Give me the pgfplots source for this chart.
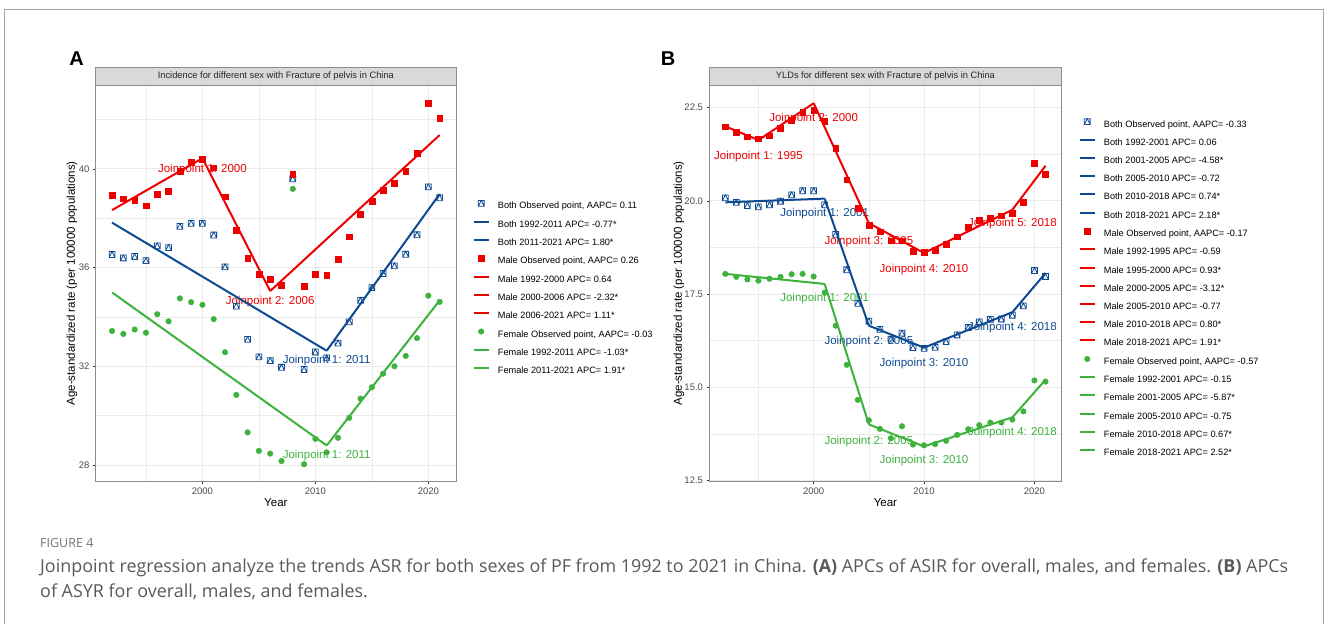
\documentclass[border=0pt]{standalone}
\usepackage{pgfplots}
\pgfplotsset{compat=1.18}
\usepackage{fontspec}
\setmainfont{Liberation Sans}
\newfontfamily\capfont{Open Sans}
\definecolor{cred}{HTML}{EE0000}
\definecolor{cblue}{HTML}{0E4A92}
\definecolor{cgreen}{HTML}{3DB33D}
\definecolor{gridc}{HTML}{EBEBEB}
\definecolor{framec}{HTML}{8C8C8C}
\definecolor{captc}{HTML}{5A5A5A}
\definecolor{stripc}{HTML}{D9D9D9}

\pgfdeclareplotmark{sqtri}{%
 \pgfpathrectangle{\pgfpoint{-\pgfplotmarksize}{-\pgfplotmarksize}}{\pgfpoint{2\pgfplotmarksize}{2\pgfplotmarksize}}%
 \pgfpathmoveto{\pgfpoint{-\pgfplotmarksize}{-\pgfplotmarksize}}%
 \pgfpathlineto{\pgfpoint{0pt}{\pgfplotmarksize}}%
 \pgfpathlineto{\pgfpoint{\pgfplotmarksize}{-\pgfplotmarksize}}%
 \pgfusepathqstroke}

\tikzset{jlab/.style={font=\fontsize{11.5}{13}\selectfont, inner sep=0pt}}

\pgfplotsset{
 jp/.style={
  scale only axis, anchor=south west,
  xmin=1990.55, xmax=2022.45,
  xtick={2000,2010,2020}, minor xtick={1995,2005,2015},
  grid=both,
  major grid style={draw=gridc, line width=0.9pt},
  minor grid style={draw=gridc, line width=0.45pt},
  axis line style={draw=framec, line width=0.8pt},
  tick align=outside, major tick length=2.8pt, minor tick length=0pt,
  xtick pos=bottom, ytick pos=left,
  tick style={draw=black!80, line width=0.5pt},
  ticklabel style={font=\fontsize{9.5}{11}\selectfont, text=black!70},
  /pgf/number format/assume math mode=true,
  x tick label style={/pgf/number format/1000 sep={}},
  xlabel={Year}, ylabel={Age-standardized rate (per 100000 populations)},
  label style={font=\fontsize{11.5}{13}\selectfont},
  xlabel style={at={(axis description cs:0.5,-0.054)}, anchor=center},
  legend cell align=left,
  legend style={draw=none, fill=none, anchor=north west,
    font=\fontsize{9.2}{11}\selectfont, row sep=7.2pt, inner sep=0pt,
    nodes={inner sep=1pt, text height=7pt, text depth=2pt},
    /tikz/every odd column/.append style={column sep=7.2pt}},
 },
 mline/.style={line width=2pt, legend image code/.code={\draw[##1] (0pt,3pt) -- (15pt,3pt);}},
 mpt/.style={only marks, legend image code/.code={\draw[##1] plot coordinates {(7.5pt,3pt)};}},
 pboth/.style={mpt, mark=sqtri, mark size=2.9pt, draw=cblue, mark options={line width=0.8pt}},
 pmale/.style={mpt, mark=square*, mark size=2.9pt, draw=cred, fill=cred},
 pfem/.style={mpt, mark=*, mark size=2.8pt, draw=cgreen, fill=cgreen},
 lboth/.style={mline, draw=cblue},
 lmale/.style={mline, draw=cred},
 lfem/.style={mline, draw=cgreen},
}

\newlength\capw
\def\capone{Joinpoint regression analyze the trends ASR for both sexes of PF from 1992 to 2021 in China. \textbf{(A)} APCs of ASIR for overall, males, and females. \textbf{(B)} APCs}
\def\captwo{of ASYR for overall, males, and females.}

\begin{document}
\settowidth\capw{\capfont\fontsize{10}{12}\selectfont\capone}%
\pgfmathsetmacro\capsz{10*1248/\capw}%
\begin{tikzpicture}
\path[use as bounding box] (0pt,0pt) rectangle (1328pt,624pt);
\fill[white] (0pt,0pt) rectangle (1328pt,624pt);
\draw[framec!80, line width=0.8pt] (4.5pt,0pt) -- (4.5pt,615pt) -- (1323.5pt,615pt) -- (1323.5pt,0pt);

% ---------------- Panel A ----------------
\begin{axis}[jp, at={(95.7pt,142.5pt)}, width=360.3pt, height=396.5pt,
  ymin=27.33, ymax=43.40, ytick={28,32,36,40}, minor ytick={30,34,38,42},
  ylabel style={at={(axis description cs:-0.066,0.5)}, anchor=center},
  legend style={at={(axis description cs:1.0458,0.7092)}}]
\addlegendimage{pboth}\addlegendentry{Both Observed point, AAPC= 0.11}
\addlegendimage{lboth}\addlegendentry{Both 1992-2011 APC= -0.77*}
\addlegendimage{lboth}\addlegendentry{Both 2011-2021 APC= 1.80*}
\addlegendimage{pmale}\addlegendentry{Male Observed point, AAPC= 0.26}
\addlegendimage{lmale}\addlegendentry{Male 1992-2000 APC= 0.64}
\addlegendimage{lmale}\addlegendentry{Male 2000-2006 APC= -2.32*}
\addlegendimage{lmale}\addlegendentry{Male 2006-2021 APC= 1.11*}
\addlegendimage{pfem}\addlegendentry{Female Observed point, AAPC= -0.03}
\addlegendimage{lfem}\addlegendentry{Female 1992-2011 APC= -1.03*}
\addlegendimage{lfem}\addlegendentry{Female 2011-2021 APC= 1.91*}

\node[jlab, text=cred] at (axis cs:2000,39.96) {Joinpoint 1: 2000};
\node[jlab, text=cred] at (axis cs:2006,34.64) {Joinpoint 2: 2006};
\node[jlab, text=cblue] at (axis cs:2011,32.24) {Joinpoint 1: 2011};
\node[jlab, text=cgreen] at (axis cs:2011,28.40) {Joinpoint 1: 2011};

\addplot[pboth, forget plot] coordinates {(1992,36.53)(1993,36.39)(1994,36.45)(1995,36.28)(1996,36.88)(1997,36.81)(1998,37.67)(1999,37.79)(2000,37.79)(2001,37.32)(2002,36.03)(2003,34.44)(2004,33.09)(2005,32.38)(2006,32.23)(2007,31.96)(2008,39.60)(2009,31.87)(2010,32.58)(2011,32.34)(2012,32.94)(2013,33.80)(2014,34.67)(2015,35.19)(2016,35.76)(2017,36.07)(2018,36.54)(2019,37.33)(2020,39.27)(2021,38.83)};
\addplot[pmale, forget plot] coordinates {(1992,38.93)(1993,38.79)(1994,38.74)(1995,38.51)(1996,38.97)(1997,39.10)(1998,39.92)(1999,40.26)(2000,40.39)(2001,40.05)(2002,38.87)(2003,37.50)(2004,36.37)(2005,35.72)(2006,35.53)(2007,35.28)(2008,39.78)(2009,35.25)(2010,35.72)(2011,35.70)(2012,36.34)(2013,37.25)(2014,38.16)(2015,38.70)(2016,39.15)(2017,39.43)(2018,39.89)(2019,40.64)(2020,42.66)(2021,42.06)};
\addplot[pfem, forget plot] coordinates {(1992,33.43)(1993,33.31)(1994,33.49)(1995,33.36)(1996,34.11)(1997,33.82)(1998,34.75)(1999,34.60)(2000,34.49)(2001,33.91)(2002,32.57)(2003,30.84)(2004,29.32)(2005,28.57)(2006,28.46)(2007,28.16)(2008,39.19)(2009,28.03)(2010,29.06)(2011,28.51)(2012,29.10)(2013,29.91)(2014,30.69)(2015,31.15)(2016,31.70)(2017,32.00)(2018,32.42)(2019,33.14)(2020,34.86)(2021,34.61)};
\addplot[lboth, forget plot] coordinates {(1992,37.82)(2011,32.63)};
\addplot[lboth, forget plot] coordinates {(2011,32.63)(2021,38.98)};
\addplot[lmale, forget plot] coordinates {(1992,38.33)(2000,40.43)};
\addplot[lmale, forget plot] coordinates {(2000,40.43)(2006,35.05)};
\addplot[lmale, forget plot] coordinates {(2006,35.05)(2021,41.37)};
\addplot[lfem, forget plot] coordinates {(1992,34.99)(2011,28.79)};
\addplot[lfem, forget plot] coordinates {(2011,28.79)(2021,34.67)};
\end{axis}

% ---------------- Panel B ----------------
\begin{axis}[jp, at={(709.3pt,142.5pt)}, width=352.2pt, height=396.5pt,
  ymin=12.468, ymax=23.109, ytick={12.5,15,17.5,20,22.5}, minor ytick={13.75,16.25,18.75,21.25},
  y tick label style={/pgf/number format/.cd, fixed, fixed zerofill, precision=1},
  ylabel style={at={(axis description cs:-0.086,0.5)}, anchor=center},
  legend style={at={(axis description cs:1.0483,0.9153)}}]
\addlegendimage{pboth}\addlegendentry{Both Observed point, AAPC= -0.33}
\addlegendimage{lboth}\addlegendentry{Both 1992-2001 APC= 0.06}
\addlegendimage{lboth}\addlegendentry{Both 2001-2005 APC= -4.58*}
\addlegendimage{lboth}\addlegendentry{Both 2005-2010 APC= -0.72}
\addlegendimage{lboth}\addlegendentry{Both 2010-2018 APC= 0.74*}
\addlegendimage{lboth}\addlegendentry{Both 2018-2021 APC= 2.18*}
\addlegendimage{pmale}\addlegendentry{Male Observed point, AAPC= -0.17}
\addlegendimage{lmale}\addlegendentry{Male 1992-1995 APC= -0.59}
\addlegendimage{lmale}\addlegendentry{Male 1995-2000 APC= 0.93*}
\addlegendimage{lmale}\addlegendentry{Male 2000-2005 APC= -3.12*}
\addlegendimage{lmale}\addlegendentry{Male 2005-2010 APC= -0.77}
\addlegendimage{lmale}\addlegendentry{Male 2010-2018 APC= 0.80*}
\addlegendimage{lmale}\addlegendentry{Male 2018-2021 APC= 1.91*}
\addlegendimage{pfem}\addlegendentry{Female Observed point, AAPC= -0.57}
\addlegendimage{lfem}\addlegendentry{Female 1992-2001 APC= -0.15}
\addlegendimage{lfem}\addlegendentry{Female 2001-2005 APC= -5.87*}
\addlegendimage{lfem}\addlegendentry{Female 2005-2010 APC= -0.75}
\addlegendimage{lfem}\addlegendentry{Female 2010-2018 APC= 0.67*}
\addlegendimage{lfem}\addlegendentry{Female 2018-2021 APC= 2.52*}

\node[jlab, text=cred] at (axis cs:1995,21.19) {Joinpoint 1: 1995};
\node[jlab, text=cred] at (axis cs:2000,22.20) {Joinpoint 2: 2000};
\node[jlab, text=cred] at (axis cs:2005,18.90) {Joinpoint 3: 2005};
\node[jlab, text=cred] at (axis cs:2010,18.17) {Joinpoint 4: 2010};
\node[jlab, text=cred] at (axis cs:2018,19.39) {Joinpoint 5: 2018};
\node[jlab, text=cblue] at (axis cs:2001,19.65) {Joinpoint 1: 2001};
\node[jlab, text=cblue] at (axis cs:2005,16.22) {Joinpoint 2: 2005};
\node[jlab, text=cblue] at (axis cs:2010,15.63) {Joinpoint 3: 2010};
\node[jlab, text=cblue] at (axis cs:2018,16.60) {Joinpoint 4: 2018};
\node[jlab, text=cgreen] at (axis cs:2001,17.37) {Joinpoint 1: 2001};
\node[jlab, text=cgreen] at (axis cs:2005,13.54) {Joinpoint 2: 2005};
\node[jlab, text=cgreen] at (axis cs:2010,13.04) {Joinpoint 3: 2010};
\node[jlab, text=cgreen] at (axis cs:2018,13.77) {Joinpoint 4: 2018};

\addplot[pboth, forget plot] coordinates {(1992,20.08)(1993,19.96)(1994,19.87)(1995,19.84)(1996,19.89)(1997,19.99)(1998,20.16)(1999,20.27)(2000,20.27)(2001,19.89)(2002,19.10)(2003,18.15)(2004,17.25)(2005,16.77)(2006,16.55)(2007,16.29)(2008,16.45)(2009,16.06)(2010,16.04)(2011,16.07)(2012,16.22)(2013,16.40)(2014,16.60)(2015,16.75)(2016,16.82)(2017,16.83)(2018,16.93)(2019,17.18)(2020,18.13)(2021,17.97)};
\addplot[pmale, forget plot] coordinates {(1992,21.99)(1993,21.84)(1994,21.72)(1995,21.67)(1996,21.75)(1997,21.94)(1998,22.17)(1999,22.37)(2000,22.44)(2001,22.13)(2002,21.42)(2003,20.57)(2004,19.80)(2005,19.35)(2006,19.17)(2007,18.93)(2008,18.93)(2009,18.64)(2010,18.62)(2011,18.67)(2012,18.84)(2013,19.04)(2014,19.29)(2015,19.47)(2016,19.54)(2017,19.60)(2018,19.67)(2019,19.96)(2020,21.01)(2021,20.72)};
\addplot[pfem, forget plot] coordinates {(1992,18.04)(1993,17.96)(1994,17.89)(1995,17.86)(1996,17.91)(1997,17.96)(1998,18.03)(1999,18.04)(2000,17.97)(2001,17.54)(2002,16.65)(2003,15.60)(2004,14.66)(2005,14.11)(2006,13.88)(2007,13.63)(2008,13.95)(2009,13.46)(2010,13.44)(2011,13.47)(2012,13.56)(2013,13.72)(2014,13.87)(2015,13.98)(2016,14.05)(2017,14.05)(2018,14.13)(2019,14.35)(2020,15.18)(2021,15.15)};
\addplot[lboth, forget plot] coordinates {(1992,19.96)(2001,20.06)};
\addplot[lboth, forget plot] coordinates {(2001,20.06)(2005,16.65)};
\addplot[lboth, forget plot] coordinates {(2005,16.65)(2010,16.06)};
\addplot[lboth, forget plot] coordinates {(2010,16.06)(2018,17.01)};
\addplot[lboth, forget plot] coordinates {(2018,17.01)(2021,18.06)};
\addplot[lmale, forget plot] coordinates {(1992,22.00)(1995,21.63)};
\addplot[lmale, forget plot] coordinates {(1995,21.63)(2000,22.62)};
\addplot[lmale, forget plot] coordinates {(2000,22.62)(2005,19.40)};
\addplot[lmale, forget plot] coordinates {(2005,19.40)(2010,18.60)};
\addplot[lmale, forget plot] coordinates {(2010,18.60)(2018,19.76)};
\addplot[lmale, forget plot] coordinates {(2018,19.76)(2021,20.94)};
\addplot[lfem, forget plot] coordinates {(1992,18.04)(2001,17.77)};
\addplot[lfem, forget plot] coordinates {(2001,17.77)(2005,14.00)};
\addplot[lfem, forget plot] coordinates {(2005,14.00)(2010,13.41)};
\addplot[lfem, forget plot] coordinates {(2010,13.41)(2018,14.19)};
\addplot[lfem, forget plot] coordinates {(2018,14.19)(2021,15.20)};
\end{axis}

% strips
\draw[fill=stripc, draw=framec, line width=0.8pt] (95.7pt,539pt) rectangle (456pt,556.3pt);
\node[font=\fontsize{9.3}{11}\selectfont, text=black!85] at (275.85pt,547.6pt) {Incidence for different sex with Fracture of pelvis in China};
\draw[fill=stripc, draw=framec, line width=0.8pt] (709.3pt,539pt) rectangle (1061.5pt,556.3pt);
\node[font=\fontsize{9.3}{11}\selectfont, text=black!85] at (885.4pt,547.6pt) {YLDs for different sex with Fracture of pelvis in China};

% panel letters
\node[font=\fontsize{20}{22}\selectfont\bfseries] at (76.7pt,565.7pt) {A};
\node[font=\fontsize{20}{22}\selectfont\bfseries] at (668pt,565.7pt) {B};

% caption
\node[anchor=base west, inner sep=0pt, text=black!55, font=\capfont\fontsize{12.5}{14}\selectfont] at (40pt,76pt) {FIGURE 4};
\node[anchor=base west, inner sep=0pt, text=captc, font=\capfont\fontsize{\capsz}{\capsz}\selectfont] at (40pt,52pt) {\capone};
\node[anchor=base west, inner sep=0pt, text=captc, font=\capfont\fontsize{\capsz}{\capsz}\selectfont] at (40pt,27pt) {\captwo};
\end{tikzpicture}
\end{document}
